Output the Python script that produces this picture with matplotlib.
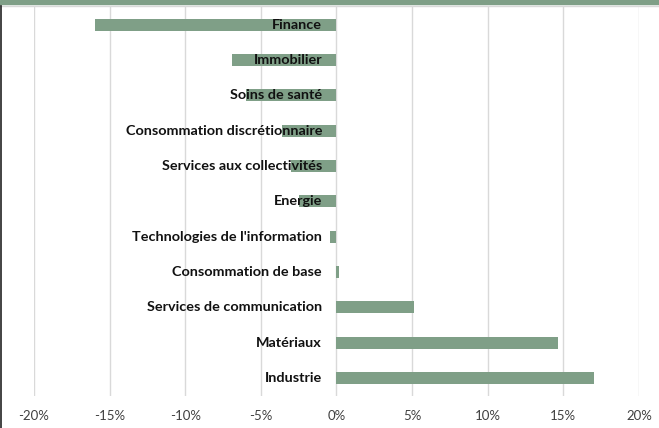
import matplotlib
matplotlib.use("Agg")
import matplotlib.pyplot as plt
from matplotlib.lines import Line2D
from matplotlib.patches import Rectangle

categories = ["Finance", "Immobilier", "Soins de santé", "Consommation discrétionnaire",
              "Services aux collectivités", "Energie", "Technologies de l'information",
              "Consommation de base", "Services de communication", "Matériaux", "Industrie"]
values = [-16.0, -6.9, -6.0, -3.6, -3.0, -2.5, -0.4, 0.15, 5.15, 14.65, 17.0]
ticks = [-20, -15, -10, -5, 0, 5, 10, 15, 20]
tick_labels = ["-20%", "-15%", "-10%", "-5%", "0%", "5%", "10%", "15%", "20%"]

bar_color = "#7f9f87"

fig = plt.figure(figsize=(6.59, 4.28), dpi=100)
ax = fig.add_axes([0.0516, 0.075, 0.918, 0.909])

y = list(range(len(categories)))
ax.barh(y, values, height=0.34, color=bar_color, zorder=2)
ax.set_ylim(len(categories) - 0.5, -0.5)
ax.set_xlim(-20, 20)
ax.set_xticks(ticks)
ax.set_xticklabels(tick_labels, fontsize=9.5, color="#404040", family="Lato")
ax.set_yticks([])
ax.tick_params(axis="x", length=0, pad=10)
ax.grid(axis="x", color="#d9d9d9", linewidth=1, zorder=0)
for s in ax.spines.values():
    s.set_visible(False)

for yi, name in zip(y, categories):
    ax.text(-0.95, yi, name, ha="right", va="center", fontsize=10.4, fontweight="bold",
            family="Lato", color="#111111", zorder=3)

# top band and border
fig.patches.append(Rectangle((0, 0.990), 1, 0.010, transform=fig.transFigure,
                             color=bar_color, zorder=5))
fig.lines.append(Line2D([0, 1], [0.986, 0.986], transform=fig.transFigure,
                        color="#d9d9d9", linewidth=1))
fig.lines.append(Line2D([0.001, 0.001], [0, 0.99], transform=fig.transFigure,
                        color="#222222", linewidth=1.2))

fig.savefig("out.png", dpi=100)
